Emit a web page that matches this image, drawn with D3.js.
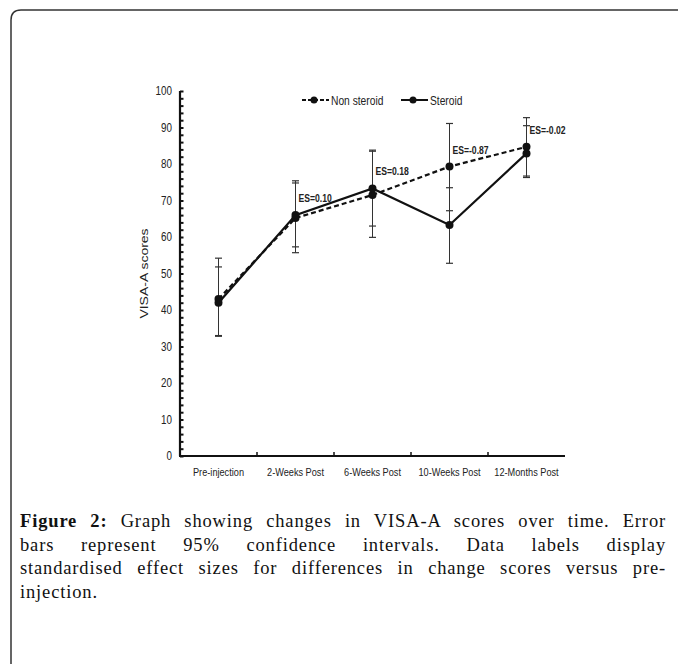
<!DOCTYPE html>
<html>
<head>
<meta charset="utf-8">
<script src="https://cdn.jsdelivr.net/npm/d3@7"></script>
<style>
  body { margin: 0; background: #fff; }
  #wrap { position: relative; width: 678px; height: 664px; overflow: hidden; }
  svg { position: absolute; left: 0; top: 0; }
  .chart text { font-family: "Liberation Sans", Arial, sans-serif; fill: #222; }
  #caption { position: absolute; left: 20px; top: 510px; width: 646px;
    font-family: "Liberation Serif", "Times New Roman", serif;
    font-size: 18.5px; letter-spacing: 0.85px; line-height: 23.5px; color: #111; }
  #caption div { text-align: justify; text-align-last: justify; white-space: nowrap; }
  #caption div.last { text-align-last: left; }
</style>
</head>
<body>
<div id="wrap">
<svg width="678" height="664"></svg>
<div id="caption"></div>
</div>
<script>
// VISA-A scores over time, two groups with 95% CI error bars

var categories = ["Pre-injection", "2-Weeks Post", "6-Weeks Post", "10-Weeks Post", "12-Months Post"];
var nonSteroid     = [43.0, 65.2, 71.5, 79.3, 84.7];
var nonSteroidLow  = [33.0, 55.7, 59.9, 67.2, 76.7];
var nonSteroidHigh = [54.2, 75.4, 83.5, 91.1, 92.7];
var steroid     = [42.0, 66.0, 73.3, 63.3, 82.9];
var steroidLow  = [32.8, 57.3, 63.0, 52.8, 76.3];
var steroidHigh = [51.8, 74.8, 83.8, 73.5, 90.5];
var esLabels = [null, "ES=0.10", "ES=0.18", "ES=-0.87", "ES=-0.02"];
var yTicks = d3.range(0, 101, 10);
var captionLines = [
	["Figure 2:", " Graph showing changes in VISA-A scores over time. Error"],
	[null, "bars represent 95% confidence intervals. Data labels display"],
	[null, "standardised effect sizes for differences in change scores versus pre-"],
	[null, "injection."]
];

// the original chart text is horizontally compressed (narrow face)
var SQ = 0.82;
function squish(sel, fx, fy){
	sel.attr("transform", (d, i) => "translate(" + fx(d, i) + "," + fy(d, i) + ") scale(" + SQ + ",1)");
}

function draw(){
	var svg = d3.select("svg");

	// page frame, rounded top-left corner, runs off the right and bottom
	svg.append("path")
		.attr("d", "M11,680 V20 Q11,10 21,10 H700")
		.attr("fill", "none")
		.attr("stroke", "#333")
		.attr("stroke-width", 1.5);

	var g = svg.append("g").attr("class", "chart");

	var x = d3.scaleBand().domain(categories).range([180, 565]);
	var y = d3.scaleLinear().domain([0, 100]).range([456, 91]);
	var cx = d => x(d) + x.bandwidth() / 2;

	// y axis: minor ticks every 2, labels every 10
	var yAxis = d3.axisRight(y).tickValues(d3.range(0, 101, 2)).tickSize(3).tickFormat("");
	var ya = g.append("g").attr("transform", "translate(180,0)").call(yAxis);
	ya.select(".domain").attr("stroke", "#111").attr("stroke-width", 2.2).attr("d", "M0,91V456");
	ya.selectAll(".tick line").attr("stroke", "#111").attr("stroke-width", 2).attr("x2", 3.5);

	g.selectAll(".ylab").data(yTicks).enter().append("text")
		.attr("class", "ylab")
		.attr("text-anchor", "end")
		.style("font-size", "12px")
		.text(d => d)
		.call(squish, () => 172, d => y(d) + 4);

	// x axis with ticks between categories
	var xa = g.append("g").attr("transform", "translate(0,456)");
	xa.append("line").attr("x1", 179).attr("x2", 565)
		.attr("stroke", "#111").attr("stroke-width", 2.2);
	xa.selectAll(".xt").data(categories.slice(1)).enter().append("line")
		.attr("x1", d => x(d)).attr("x2", d => x(d))
		.attr("y1", 0).attr("y2", -4)
		.attr("stroke", "#111").attr("stroke-width", 1.5);
	xa.selectAll(".xl").data(categories).enter().append("text")
		.attr("text-anchor", "middle")
		.style("font-size", "11.2px")
		.text(d => d)
		.call(squish, d => cx(d), () => 20);

	g.append("text")
		.attr("transform", "translate(148," + y(50) + ") scale(" + SQ + ",1) rotate(-90)")
		.attr("text-anchor", "middle")
		.style("font-size", "14px")
		.text("VISA-A scores");

	// error bars
	var series = [
		{name: "Non steroid", vals: nonSteroid, lo: nonSteroidLow, hi: nonSteroidHigh, dash: "5,3"},
		{name: "Steroid", vals: steroid, lo: steroidLow, hi: steroidHigh, dash: null}
	];
	series.forEach(s => {
		var eb = g.append("g");
		categories.forEach((c, i) => {
			eb.append("line").attr("x1", cx(c)).attr("x2", cx(c))
				.attr("y1", y(s.lo[i])).attr("y2", y(s.hi[i]))
				.attr("stroke", "#333").attr("stroke-width", 1);
			[s.lo[i], s.hi[i]].forEach(v => {
				eb.append("line").attr("x1", cx(c) - 3.5).attr("x2", cx(c) + 3.5)
					.attr("y1", y(v)).attr("y2", y(v))
					.attr("stroke", "#333").attr("stroke-width", 1.2);
			});
		});
	});

	// lines and markers
	var line = d3.line().x((d, i) => cx(categories[i])).y(d => y(d));
	series.forEach(s => {
		g.append("path").datum(s.vals)
			.attr("d", line)
			.attr("fill", "none")
			.attr("stroke", "#111")
			.attr("stroke-width", 2.2)
			.attr("stroke-dasharray", s.dash);
		g.selectAll(null).data(s.vals).enter().append("circle")
			.attr("cx", (d, i) => cx(categories[i]))
			.attr("cy", d => y(d))
			.attr("r", 4)
			.attr("fill", "#111");
	});

	// effect size labels
	var esData = esLabels.map((t, i) => ({t: t, i: i})).filter(d => d.t);
	g.selectAll(".es").data(esData).enter()
		.append("text")
		.style("font-size", "10.5px")
		.style("font-weight", "bold")
		.text(d => d.t)
		.call(squish, d => cx(categories[d.i]) + 3,
			d => y(Math.max(nonSteroid[d.i], steroid[d.i])) - 13);

	// legend
	var leg = g.append("g").attr("transform", "translate(0,100)");
	series.forEach((s, i) => {
		var x0 = i === 0 ? 302 : 401;
		leg.append("line").attr("x1", x0).attr("x2", x0 + 27)
			.attr("stroke", "#111").attr("stroke-width", 2)
			.attr("stroke-dasharray", s.dash ? "4,2" : null);
		leg.append("circle").attr("cx", x0 + 12).attr("r", 3.5).attr("fill", "#111");
		leg.append("text")
			.style("font-size", "12.5px")
			.text(s.name)
			.call(squish, () => x0 + 29, () => 4.5);
	});

	// caption
	var cap = d3.select("#caption").selectAll("div").data(captionLines).enter().append("div")
		.classed("last", (d, i) => i === captionLines.length - 1);
	cap.each(function(d){
		var el = d3.select(this);
		if (d[0]) el.append("b").text(d[0]);
		el.append("span").text(d[1]);
	});
}

draw();
</script>
</body>
</html>
